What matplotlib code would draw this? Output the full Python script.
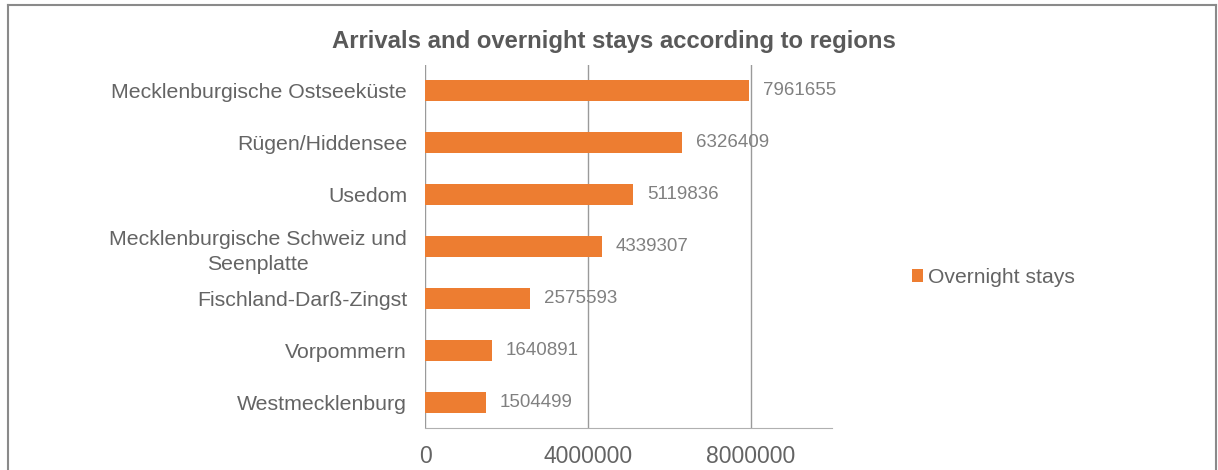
import matplotlib
import matplotlib.pyplot as plt
from matplotlib.lines import Line2D

matplotlib.use("Agg")

plt.rcParams["font.family"] = ["Liberation Sans", "DejaVu Sans"]

regions = [
    "Mecklenburgische Ostseeküste",
    "Rügen/Hiddensee",
    "Usedom",
    "Mecklenburgische Schweiz und\nSeenplatte",
    "Fischland-Darß-Zingst",
    "Vorpommern",
    "Westmecklenburg",
]
overnight_stays = [7961655, 6326409, 5119836, 4339307, 2575593, 1640891, 1504499]
x_ticks = [0, 4000000, 8000000]

bar_color = "#ED7D31"
text_color = "#595959"
label_color = "#646464"
grid_color = "#9a9a9a"

fig = plt.figure(figsize=(12.18, 4.70), dpi=100)
ax = fig.add_axes([0.349, 0.089, 0.334, 0.773])

ypos = list(range(len(regions)))
bars = ax.barh(ypos, overnight_stays, height=0.41, color=bar_color, label="Overnight stays", zorder=3)
ax.set_ylim(len(regions) - 0.5, -0.5)
ax.set_xlim(0, 10000000)

ax.set_yticks(ypos)
ax.set_yticklabels(regions, fontsize=15.3, color=label_color, multialignment="center",
                   linespacing=1.4)
ax.set_xticks(x_ticks)
ax.set_xticklabels([str(v) for v in x_ticks], fontsize=16.5, color=label_color)
ax.tick_params(axis="both", length=0)
ax.tick_params(axis="y", pad=13)
ax.tick_params(axis="x", pad=12)

ax.grid(axis="x", color=grid_color, linewidth=1.0, zorder=0)
for side in ["top", "right", "left"]:
    ax.spines[side].set_visible(False)
ax.spines["bottom"].set_color("#b0b0b0")

for y, v in zip(ypos, overnight_stays):
    ax.text(v + 340000, y, str(v), va="center", ha="left", fontsize=13.5, color="#808080", zorder=4)

fig.text(0.504, 0.912, "Arrivals and overnight stays according to regions",
         ha="center", va="center", fontsize=17.2, fontweight="bold", color=text_color,
         family=["Liberation Sans Narrow", "Liberation Sans", "DejaVu Sans"])

fig.legend(handles=[bars], labels=["Overnight stays"], loc="center left",
           bbox_to_anchor=(0.733, 0.41), frameon=False, fontsize=15.2,
           labelcolor=label_color, handlelength=0.55, handleheight=0.55,
           handletextpad=0.2)

# chart frame (bottom edge is cut off in the original)
frame_kw = dict(color="#8a8a8a", linewidth=1.5, transform=fig.transFigure)
fig.add_artist(Line2D([7.5 / 1218, 7.5 / 1218], [0, 1 - 4.5 / 470], **frame_kw))
fig.add_artist(Line2D([1215.5 / 1218, 1215.5 / 1218], [0, 1 - 4.5 / 470], **frame_kw))
fig.add_artist(Line2D([7.5 / 1218, 1215.5 / 1218], [1 - 4.5 / 470, 1 - 4.5 / 470], **frame_kw))

fig.savefig("out.png", dpi=100)
